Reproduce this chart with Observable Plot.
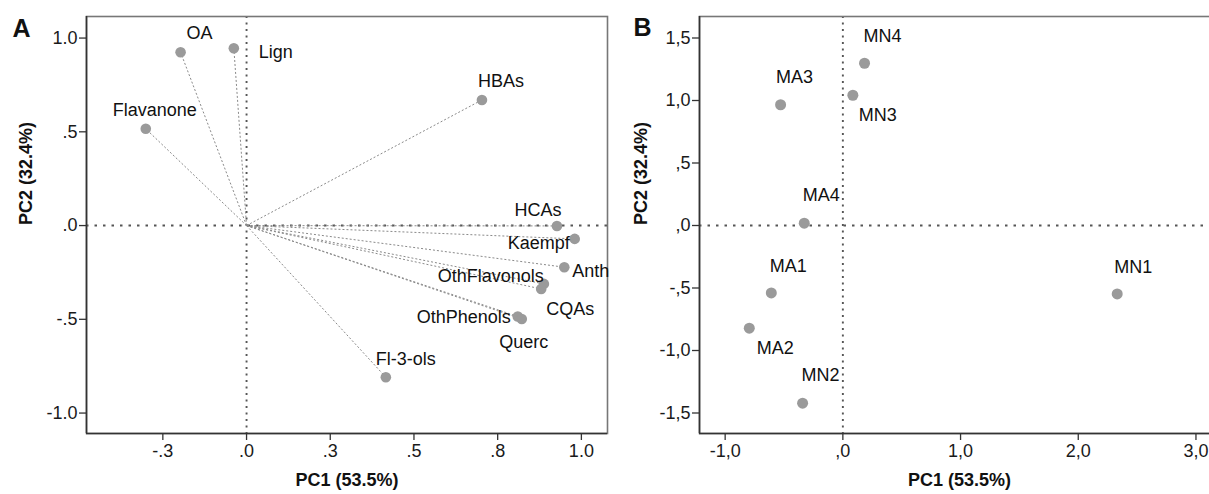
<!DOCTYPE html>
<html><head><meta charset="utf-8">
<script src="https://cdn.jsdelivr.net/npm/d3@7"></script>
<script src="https://cdn.jsdelivr.net/npm/@observablehq/plot@0.6"></script>
<style>
html,body{margin:0;padding:0;overflow:hidden;background:#fff;}
#wrap{position:relative;width:1209px;height:494px;overflow:hidden;background:#fff;}
#wrap svg{position:absolute;top:0;max-width:none;}
</style></head><body><div id="wrap"></div>
<script>
// Panel A: loadings
const loadingNames = ["OA","Lign","Flavanone","HBAs","HCAs","Kaempf","Anth","OthFlavonols","CQAs","OthPhenols","Querc","Fl-3-ols"];
const loadingPC1 = [-0.197,-0.038,-0.301,0.703,0.927,0.980,0.949,0.888,0.880,0.810,0.822,0.416];
const loadingPC2 = [0.924,0.946,0.516,0.670,-0.002,-0.071,-0.222,-0.311,-0.338,-0.485,-0.498,-0.809];
const xTicksA = [-0.25,0,0.25,0.5,0.75,1.0];
const xTickLabelsA = ["-.3",".0",".3",".5",".8","1.0"];
const yTicksA = [-1,-0.5,0,0.5,1];
const yTickLabelsA = ["-1.0","-.5",".0",".5","1.0"];

// Panel B: scores
const sampleNames = ["MA3","MN4","MN3","MA4","MA1","MA2","MN2","MN1"];
const scorePC1 = [-0.529,0.184,0.085,-0.328,-0.608,-0.795,-0.342,2.331];
const scorePC2 = [0.966,1.298,1.042,0.019,-0.539,-0.821,-1.421,-0.547];
const xTicksB = [-1,0,1,2,3];
const xTickLabelsB = ["-1,0",",0","1,0","2,0","3,0"];
const yTicksB = [-1.5,-1,-0.5,0,0.5,1,1.5];
const yTickLabelsB = ["-1,5","-1,0","-,5",",0",",5","1,0","1,5"];

const xTitle = "PC1 (53.5%)";
const yTitle = "PC2 (32.4%)";

// label placement (layout only)
const placeA = {
  "OA":["middle",19,-19], "Lign":["start",25,4], "Flavanone":["middle",9,-19],
  "HBAs":["middle",19,-19], "HCAs":["middle",-19,-16], "Kaempf":["end",-5,4],
  "Anth":["start",8,4], "OthFlavonols":["end",0,-8], "CQAs":["middle",29,20],
  "OthPhenols":["end",-7,1], "Querc":["middle",2,23], "Fl-3-ols":["middle",20,-18]
};
const placeB = {
  "MA3":[14,-28], "MN4":[18,-27], "MN3":[25,20], "MA4":[17,-28],
  "MA1":[17,-27], "MA2":[26,20], "MN2":[18,-28], "MN1":[16,-27]
};

const loadings = loadingNames.map((n,i)=>({name:n, pc1:loadingPC1[i], pc2:loadingPC2[i]}));
const scores = sampleNames.map((n,i)=>({name:n, pc1:scorePC1[i], pc2:scorePC2[i]}));

const font = "'Liberation Sans', Arial, sans-serif";
const baseStyle = {fontFamily: font, fontSize: "18px", color: "#1a1a1a", background: "transparent", overflow: "visible"};
const fmt = (ticks, labels) => d => { const i = ticks.findIndex(t => Math.abs(t-d) < 1e-9); return i >= 0 ? labels[i] : ""; };

function commonMarks(xt, xl, yt, yl, letter, letterDx, letterDy, yTitleDx) {
  return [
    Plot.ruleX([0], {stroke:"#555", strokeDasharray:"2,4.5", strokeWidth:1.9}),
    Plot.ruleY([0], {stroke:"#555", strokeDasharray:"2.5,6", strokeWidth:1.9}),
    Plot.frame({stroke:"#777", strokeWidth:1.6}),
    Plot.axisX({ticks: xt, tickFormat: fmt(xt, xl), tickSize: 7, tickPadding: 4, label: null, stroke:"#333", strokeWidth:1.3}),
    Plot.axisY({ticks: yt, tickFormat: fmt(yt, yl), tickSize: 7, tickPadding: 2, label: null, stroke:"#333", strokeWidth:1.3}),
    Plot.text([xTitle], {frameAnchor:"bottom", dy:52, fontWeight:"bold", fontSize:18, fill:"#111"}),
    Plot.text([yTitle], {frameAnchor:"left", dx:yTitleDx, rotate:-90, fontWeight:"bold", fontSize:18, fill:"#111"}),
    Plot.text([letter], {frameAnchor:"top-left", dx:letterDx, dy:letterDy, textAnchor:"middle", lineAnchor:"middle", fontWeight:"bold", fontSize:25, fill:"#111"})
  ];
}

const plotA = Plot.plot({
  width: 620, height: 494,
  marginLeft: 86, marginRight: 13, marginTop: 16, marginBottom: 61,
  x: {domain: [-0.478, 1.078]},
  y: {domain: [-1.109, 1.115]},
  style: baseStyle,
  marks: [
    ...commonMarks(xTicksA, xTickLabelsA, yTicksA, yTickLabelsA, "A", -65, 12, -60),
    Plot.ruleX([-0.478], {stroke:"#333", strokeWidth:1.6}),
    Plot.ruleY([-1.109], {stroke:"#333", strokeWidth:1.6}),
    Plot.link(loadings, {x1:0, y1:0, x2:"pc1", y2:"pc2", stroke:"#8a8a8a", strokeDasharray:"2,2", strokeWidth:1}),
    Plot.dot(loadings, {x:"pc1", y:"pc2", r:5.3, fill:"#9a9a9a"}),
    ...loadings.map(d => Plot.text([d], {x:"pc1", y:"pc2", text:"name", textAnchor:placeA[d.name][0], dx:placeA[d.name][1], dy:placeA[d.name][2], fill:"#111"}))
  ]
});

const plotB = Plot.plot({
  width: 620, height: 494,
  marginLeft: 99, marginRight: 1, marginTop: 16, marginBottom: 61,
  x: {domain: [-1.218, 3.2]},
  y: {domain: [-1.664, 1.672]},
  style: baseStyle,
  marks: [
    ...commonMarks(xTicksB, xTickLabelsB, yTicksB, yTickLabelsB, "B", -57, 11, -58),
    Plot.ruleX([-1.218], {stroke:"#333", strokeWidth:1.6}),
    Plot.ruleY([-1.664], {stroke:"#333", strokeWidth:1.6}),
    Plot.dot(scores, {x:"pc1", y:"pc2", r:5.5, fill:"#9a9a9a"}),
    ...scores.map(d => Plot.text([d], {x:"pc1", y:"pc2", text:"name", textAnchor:"middle", dx:placeB[d.name][0], dy:placeB[d.name][1], fill:"#111"}))
  ]
});

const wrap = document.getElementById("wrap");
plotA.style.left = "0px";
plotB.style.left = "600px";
wrap.appendChild(plotB);
wrap.appendChild(plotA);
</script>
</body></html>
